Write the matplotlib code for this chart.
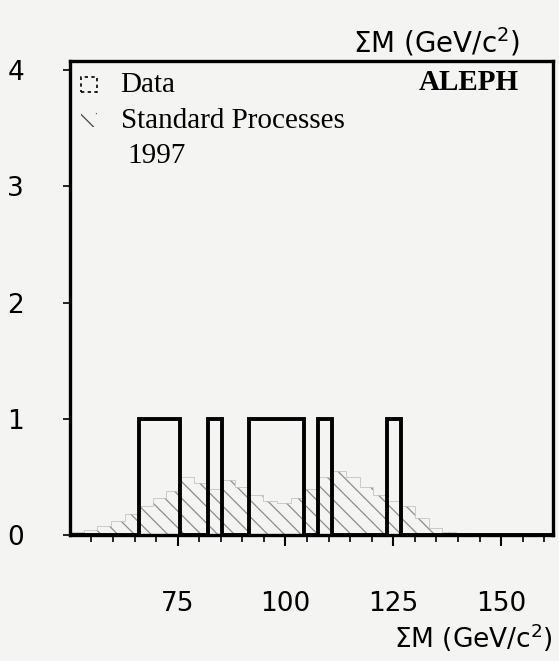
import numpy as np
import matplotlib
matplotlib.use('Agg')
import matplotlib.pyplot as plt
from matplotlib.patches import Rectangle

# histogram binning: 35 bins of 3.2 GeV from 50 to 162
bin_edges = [50 + 3.2 * i for i in range(36)]

# observed events per bin (1997 data)
data_counts = [0, 0, 0, 0, 0, 1, 1, 1, 0, 0,
               1, 0, 0, 1, 1, 1, 1, 0, 1, 0,
               0, 0, 0, 1, 0, 0, 0, 0, 0, 0,
               0, 0, 0, 0, 0]

# expected standard processes per bin
sm_counts = [0.03, 0.05, 0.08, 0.12, 0.18, 0.25, 0.32, 0.38, 0.50, 0.45,
             0.40, 0.48, 0.42, 0.35, 0.30, 0.28, 0.32, 0.40, 0.50, 0.55,
             0.50, 0.42, 0.35, 0.30, 0.25, 0.15, 0.06, 0.03, 0.02, 0.01,
             0.0, 0.0, 0.0, 0.0, 0.0]

x_major = [75, 100, 125, 150]
y_major = [0, 1, 2, 3, 4]
axis_label = r'$\Sigma$M (GeV/c$^2$)'

plt.rcParams['hatch.linewidth'] = 0.9
plt.rcParams['hatch.color'] = '#8c8c8c'

fig = plt.figure(figsize=(5.59, 6.61), dpi=100)
fig.patch.set_facecolor('#f4f4f2')
ax = fig.add_axes([0.125, 0.19, 0.864, 0.718])
ax.set_facecolor('#f4f4f2')

# standard processes, faint hatched
ax.stairs(sm_counts, bin_edges, fill=False, hatch='\\\\', edgecolor='#8c8c8c',
          linewidth=0.0, zorder=1)
ax.stairs(sm_counts, bin_edges, color='#c4c4c4', linewidth=0.6, zorder=1)

# data histogram
ax.stairs(data_counts, bin_edges, color='black', linewidth=2.8, zorder=3)

ax.set_xlim(bin_edges[0], bin_edges[-1])
ax.set_ylim(0, 4.08)
ax.set_xticks(x_major)
ax.set_xticks(np.arange(55, 162, 5), minor=True)
ax.set_yticks(y_major)

for s in ax.spines.values():
    s.set_linewidth(2.4)
    s.set_color('black')

ax.tick_params(axis='x', which='major', direction='out', length=8, width=1.5,
               labelsize=19, pad=32)
ax.tick_params(axis='x', which='minor', direction='out', length=5, width=1.2)
ax.tick_params(axis='y', which='major', direction='out', length=5, width=1.2,
               labelsize=19, pad=28)

legend_box = Rectangle((0.022, 0.935), 0.035, 0.03, transform=ax.transAxes,
                       fill=False, linestyle=(0, (2, 2)), linewidth=1.2,
                       edgecolor='black')
ax.add_patch(legend_box)
legend_hatch = Rectangle((0.022, 0.86), 0.035, 0.03, transform=ax.transAxes,
                         fill=False, hatch='\\\\', linewidth=0, edgecolor='#444444')
ax.add_patch(legend_hatch)

serif = ['Liberation Serif', 'DejaVu Serif']
ax.text(0.105, 0.95, 'Data', transform=ax.transAxes, family=serif,
        fontsize=21, va='center', ha='left')
ax.text(0.105, 0.873, 'Standard Processes', transform=ax.transAxes, family=serif,
        fontsize=21, va='center', ha='left')
ax.text(0.12, 0.8, '1997', transform=ax.transAxes, family=serif,
        fontsize=21, va='center', ha='left')
ax.text(0.93, 0.955, 'ALEPH', transform=ax.transAxes, family=serif,
        fontsize=21, fontweight='bold', va='center', ha='right')

fig.text(0.93, 0.912, axis_label, fontsize=20, ha='right', va='bottom')
fig.text(0.705, 0.01, axis_label, fontsize=19, ha='left', va='bottom')

fig.savefig('out.png', dpi=100, facecolor=fig.get_facecolor())
